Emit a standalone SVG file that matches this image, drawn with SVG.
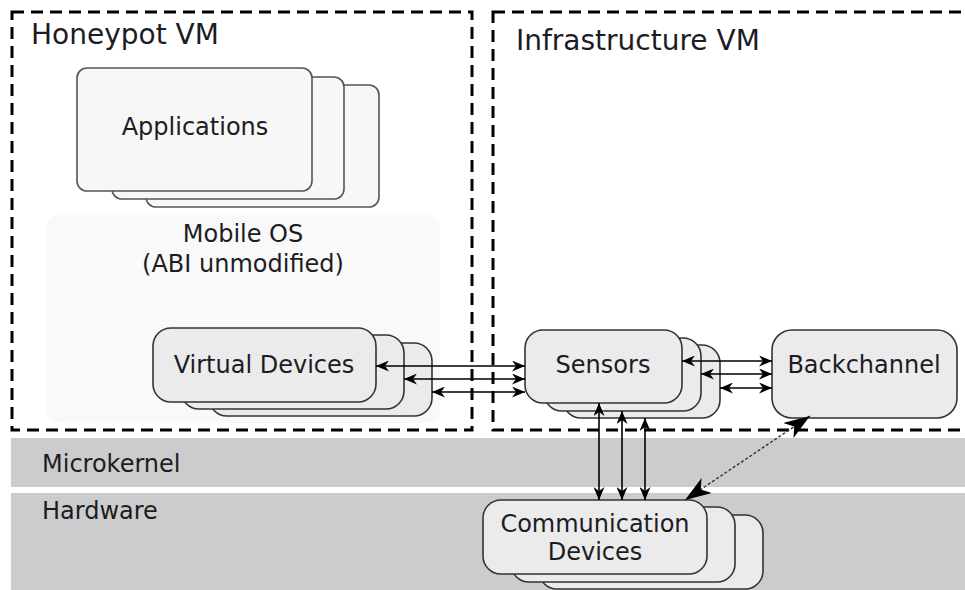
<svg xmlns="http://www.w3.org/2000/svg" width="965" height="590" viewBox="0 0 965 590">
  <style>
    text { font-family: "DejaVu Sans", Verdana, sans-serif; fill: #1c1c24; }
    .title { font-size: 28px; }
    .lbl { font-size: 24px; }
    .vm { fill: none; stroke: #000; stroke-width: 3; stroke-dasharray: 12 7; }
    .band { fill: #cccccc; }
    .app { fill: #f7f7f7; stroke: #555; stroke-width: 1.6; }
    .dev { fill: #ebebeb; stroke: #333; stroke-width: 1.6; }
    .link { stroke: #000; stroke-width: 1.6; fill: none; marker-start: url(#tip); marker-end: url(#tip); }
    .dotted { stroke: #333; stroke-width: 1.4; stroke-dasharray: 3 2; fill: none; marker-start: url(#bigtip); marker-end: url(#bigtip); }
  </style>
  <defs>
    <marker id="tip" markerUnits="userSpaceOnUse" markerWidth="14" markerHeight="11" refX="13" refY="5.5" orient="auto-start-reverse">
      <path d="M0,0 L13,5.5 L0,11 L4,5.5 Z" fill="#000"/>
    </marker>
    <marker id="bigtip" markerUnits="userSpaceOnUse" markerWidth="28" markerHeight="20" refX="26" refY="9" orient="auto-start-reverse">
      <path d="M0,0 L26,9 L0,18 L7,9 Z" fill="#000"/>
    </marker>
  </defs>

  <rect width="965" height="590" fill="#ffffff"/>

  <!-- platform layers -->
  <g id="microkernel">
    <rect class="band" x="11" y="438" width="954" height="49"/>
    <text class="lbl" x="42" y="472">Microkernel</text>
  </g>
  <g id="hardware">
    <rect class="band" x="11" y="493" width="954" height="97"/>
    <text class="lbl" x="42" y="519">Hardware</text>
  </g>

  <!-- virtual machines -->
  <g id="honeypot-vm">
    <rect class="vm" x="12" y="12" width="460" height="418"/>
    <text class="title" x="31" y="44">Honeypot VM</text>
  </g>
  <g id="infrastructure-vm">
    <rect class="vm" x="493" y="12" width="490" height="418"/>
    <text class="title" x="516" y="50">Infrastructure VM</text>
  </g>

  <g id="mobile-os">
    <rect x="47" y="215" width="393" height="208" rx="12" fill="#f9f9f9"/>
    <text class="lbl" x="243" y="242" text-anchor="middle">Mobile OS</text>
    <text class="lbl" x="243" y="272" text-anchor="middle">(ABI unmodified)</text>
  </g>

  <g id="applications">
    <rect class="app" x="146" y="85" width="233" height="122" rx="10"/>
    <rect class="app" x="112" y="77" width="232" height="122" rx="10"/>
    <rect class="app" x="77" y="68" width="235" height="123" rx="10" stroke="#222"/>
    <text class="lbl" x="195" y="135" text-anchor="middle">Applications</text>
  </g>

  <g id="virtual-devices">
    <rect class="dev" x="209" y="343" width="223" height="73" rx="18"/>
    <rect class="dev" x="181" y="335" width="223" height="74" rx="18"/>
    <rect class="dev" x="153" y="328" width="223" height="74" rx="18"/>
    <text class="lbl" x="264" y="373" text-anchor="middle">Virtual Devices</text>
  </g>

  <g id="sensors">
    <rect class="dev" x="563" y="345" width="157" height="73" rx="18"/>
    <rect class="dev" x="544" y="338" width="157" height="73" rx="18"/>
    <rect class="dev" x="525" y="330" width="157" height="73" rx="18"/>
    <text class="lbl" x="603" y="373" text-anchor="middle">Sensors</text>
  </g>

  <g id="backchannel">
    <rect class="dev" x="772" y="330" width="185" height="88" rx="20"/>
    <text class="lbl" x="864" y="373" text-anchor="middle">Backchannel</text>
  </g>

  <g id="communication-devices">
    <rect class="dev" x="539" y="515" width="224" height="74" rx="18"/>
    <rect class="dev" x="511" y="507" width="224" height="75" rx="18"/>
    <rect class="dev" x="483" y="500" width="224" height="74" rx="18"/>
    <text class="lbl" x="595" y="532" text-anchor="middle">Communication</text>
    <text class="lbl" x="595" y="560" text-anchor="middle">Devices</text>
  </g>

  <!-- connectors -->
  <g id="connectors">
    <line class="link" x1="376" y1="366" x2="525" y2="366"/>
    <line class="link" x1="404" y1="379" x2="525" y2="379"/>
    <line class="link" x1="432" y1="392" x2="525" y2="392"/>

    <line class="link" x1="682" y1="361" x2="772" y2="361"/>
    <line class="link" x1="701" y1="374" x2="772" y2="374"/>
    <line class="link" x1="720" y1="388" x2="772" y2="388"/>

    <line class="link" x1="599" y1="403" x2="599" y2="500"/>
    <line class="link" x1="622" y1="411" x2="622" y2="500"/>
    <line class="link" x1="645" y1="418" x2="645" y2="500"/>

    <line class="dotted" x1="810" y1="416" x2="685" y2="500"/>
  </g>
</svg>
